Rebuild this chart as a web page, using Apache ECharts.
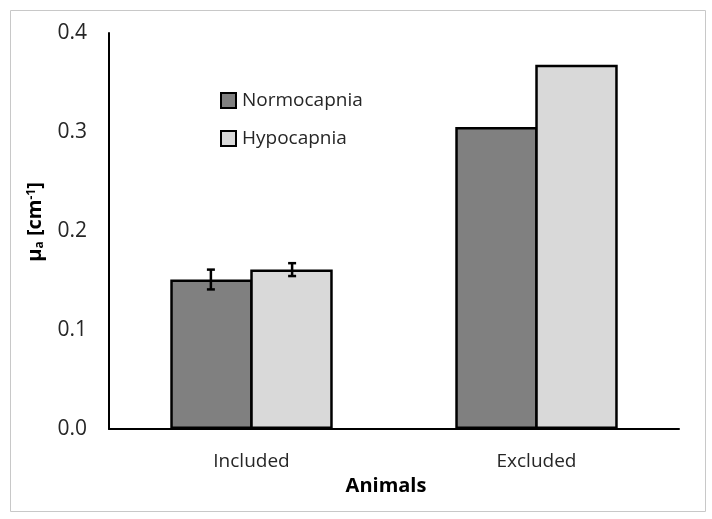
<!DOCTYPE html>
<html>
<head>
<meta charset="utf-8">
<script src="https://cdn.jsdelivr.net/npm/echarts@6/dist/echarts.min.js"></script>
<style>html,body{margin:0;padding:0;background:#fff;}#c{width:712px;height:519px;}</style>
</head>
<body>
<div id="c"></div>
<script>
var categories = ['Included', 'Excluded'];
var seriesNames = ['Normocapnia', 'Hypocapnia'];
var normocapnia = [0.151, 0.305];
var hypocapnia = [0.161, 0.368];
var normoErr = [0.010, null];
var hypoErr = [0.0065, null];
var yTicks = [0, 0.1, 0.2, 0.3, 0.4];

var FONT = 'Open Sans';
var GAP = 0.43;

function errSeries(vals, errs, idx) {
  var data = [];
  for (var i = 0; i < vals.length; i++) {
    if (errs[i] != null) data.push([i, vals[i], errs[i]]);
  }
  return {
    type: 'custom',
    z: 10,
    silent: true,
    data: data,
    renderItem: function (params, api) {
      var ci = api.value(0), v = api.value(1), e = api.value(2);
      var band = api.size([1, 0])[0];
      var bw = band * (1 - GAP) / 2;
      var off = (idx === 0 ? -1 : 1) * bw / 2;
      var top = api.coord([ci, v + e]);
      var bot = api.coord([ci, v - e]);
      var x = top[0] + off;
      var cap = 4;
      var st = { stroke: '#000', lineWidth: 2.5 };
      return {
        type: 'group',
        children: [
          { type: 'line', shape: { x1: x, y1: top[1], x2: x, y2: bot[1] }, style: st },
          { type: 'line', shape: { x1: x - cap, y1: top[1], x2: x + cap, y2: top[1] }, style: st },
          { type: 'line', shape: { x1: x - cap, y1: bot[1], x2: x + cap, y2: bot[1] }, style: st }
        ]
      };
    }
  };
}

var chart = echarts.init(document.getElementById('c'), null, { renderer: 'canvas' });
chart.setOption({
  animation: false,
  backgroundColor: '#fff',
  textStyle: { fontFamily: FONT },
  graphic: [{
    type: 'rect', left: 8, top: 8, z: -10,
    shape: { width: 695, height: 501 },
    style: { fill: 'none', stroke: '#c8c8c8', lineWidth: 1 }
  }],
  grid: { left: 109, right: 33, top: 33, bottom: 90 },
  legend: {
    orient: 'vertical',
    left: 215, top: 86,
    itemWidth: 15, itemHeight: 15, itemGap: 19,
    icon: 'rect',
    textStyle: { fontFamily: FONT, fontSize: 19, color: '#262626', padding: [0, 0, 0, 1] },
    data: seriesNames
  },
  xAxis: {
    type: 'category',
    data: categories,
    axisLine: { lineStyle: { color: '#000', width: 2 } },
    axisTick: { show: false },
    axisLabel: { fontFamily: FONT, fontSize: 19, color: '#262626', margin: 23 },
    name: 'Animals',
    nameLocation: 'middle',
    nameGap: 43,
    nameTextStyle: { fontFamily: FONT, fontSize: 20, fontWeight: 'bold', color: '#000', padding: [0, 0, 0, -16] }
  },
  yAxis: {
    type: 'value',
    min: yTicks[0], max: yTicks[yTicks.length - 1], interval: 0.1,
    axisLine: { show: true, lineStyle: { color: '#000', width: 2 } },
    axisTick: { show: false },
    splitLine: { show: false },
    axisLabel: {
      fontFamily: FONT, fontSize: 21, color: '#262626', margin: 22,
      formatter: function (v) { return v.toFixed(1); }
    },
    name: '{b|μ}{s|a}{b| [cm}{p|-1}{b|]}',
    nameLocation: 'middle',
    nameGap: 63,
    nameTextStyle: {
      padding: [0, 0, 0, 18],
      rich: {
        b: { fontFamily: FONT, fontSize: 20, fontWeight: 'bold', color: '#000' },
        s: { fontFamily: FONT, fontSize: 12, fontWeight: 'bold', color: '#000', verticalAlign: 'bottom', lineHeight: 20, padding: [7, 0, 0, 0] },
        p: { fontFamily: FONT, fontSize: 12, fontWeight: 'bold', color: '#000', verticalAlign: 'top', lineHeight: 20, padding: [0, 0, 9, 0] }
      }
    }
  },
  series: [
    {
      name: seriesNames[0], type: 'bar', data: normocapnia,
      barGap: '-3%', barCategoryGap: (GAP * 100) + '%',
      itemStyle: { color: '#808080', borderColor: '#000', borderWidth: 2.5 }
    },
    {
      name: seriesNames[1], type: 'bar', data: hypocapnia,
      barGap: '-3%', barCategoryGap: (GAP * 100) + '%',
      itemStyle: { color: '#d9d9d9', borderColor: '#000', borderWidth: 2.5 }
    },
    errSeries(normocapnia, normoErr, 0),
    errSeries(hypocapnia, hypoErr, 1)
  ]
});
</script>
</body>
</html>
